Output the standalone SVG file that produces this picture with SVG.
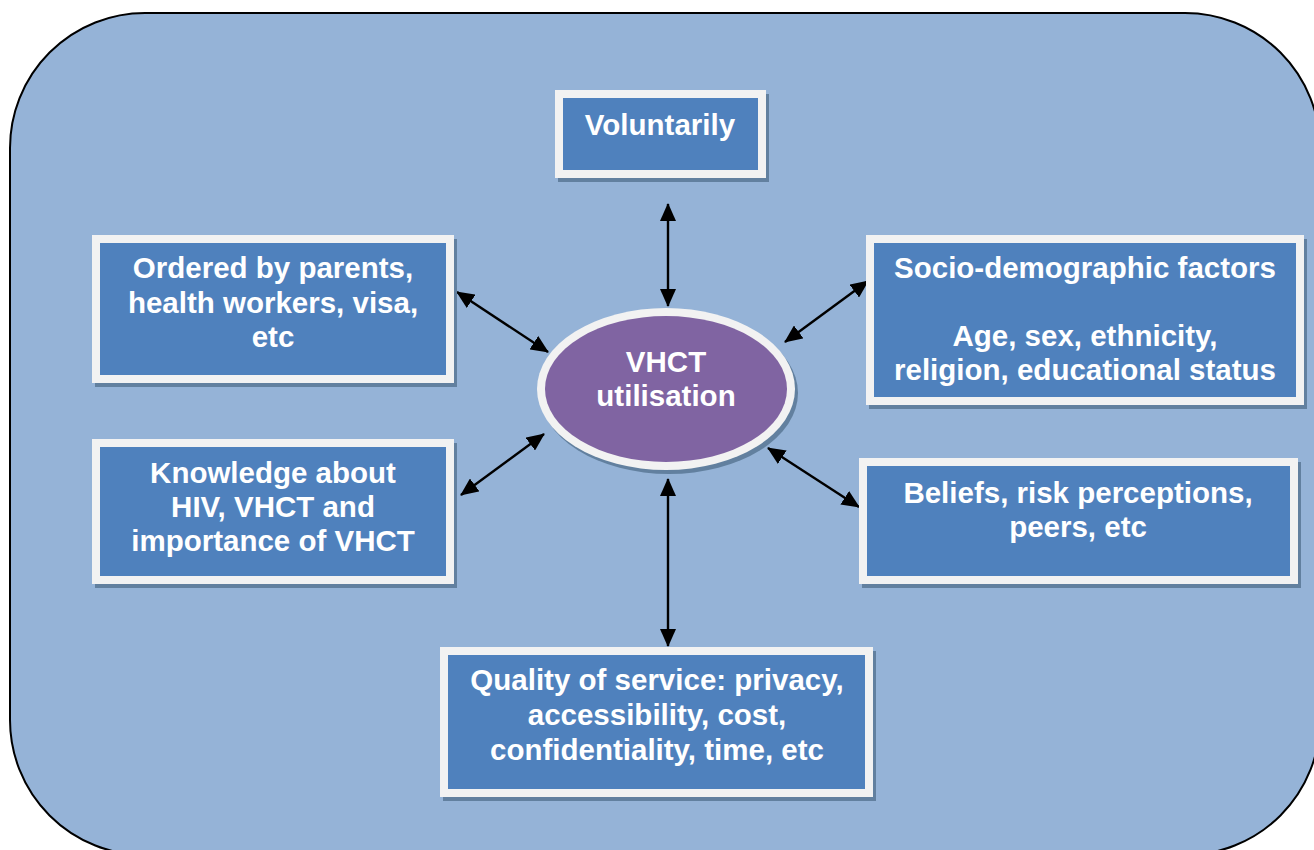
<svg xmlns="http://www.w3.org/2000/svg" width="1314" height="850" viewBox="0 0 1314 850">
<defs>
<style>
.bg{fill:#95b3d7;stroke:#000;stroke-width:2}
.sh{fill:#62809f}
.frame{fill:#f2f2f2}
.box{fill:#4f81bd}
.ell{fill:#8064a2}
.t{font-family:"Liberation Sans",Arial,sans-serif;font-weight:bold;font-size:29.5px;fill:#fff;text-anchor:middle}
.c{stroke:#000;stroke-width:2.4;fill:none;marker-start:url(#ah);marker-end:url(#ah)}
</style>
<marker id="ah" viewBox="0 0 18 16" refX="17" refY="8" markerWidth="18" markerHeight="16" markerUnits="userSpaceOnUse" orient="auto-start-reverse">
<path d="M0,0 L18,8 L0,16 z" fill="#000"/>
</marker>
</defs>
<rect class="bg" x="10" y="13" width="1310" height="842" rx="135" ry="135"/>

<g id="connectors">
<line class="c" x1="668" y1="204" x2="668" y2="306"/>
<line class="c" x1="668" y1="479" x2="668" y2="646"/>
<line class="c" x1="457" y1="292" x2="548" y2="352"/>
<line class="c" x1="868" y1="281" x2="785" y2="342"/>
<line class="c" x1="461" y1="495" x2="544" y2="434"/>
<line class="c" x1="768" y1="448" x2="859" y2="507"/>
</g>

<g id="voluntarily">
<rect class="sh" x="558" y="94" width="211" height="88"/>
<rect class="frame" x="555" y="90" width="211" height="88"/>
<rect class="box" x="563" y="98" width="195" height="72"/>
<text class="t" x="660" y="135">Voluntarily</text>
</g>

<g id="ordered">
<rect class="sh" x="95" y="239" width="362" height="148"/>
<rect class="frame" x="92" y="235" width="362" height="148"/>
<rect class="box" x="100" y="243" width="346" height="132"/>
<text class="t" x="273" y="278">Ordered by parents,</text>
<text class="t" x="273" y="313">health workers, visa,</text>
<text class="t" x="273" y="347">etc</text>
</g>

<g id="socio">
<rect class="sh" x="869" y="239" width="438" height="170"/>
<rect class="frame" x="866" y="235" width="438" height="170"/>
<rect class="box" x="874" y="243" width="422" height="154"/>
<text class="t" x="1085" y="278">Socio-demographic factors</text>
<text class="t" x="1085" y="346">Age, sex, ethnicity,</text>
<text class="t" x="1085" y="380">religion, educational status</text>
</g>

<g id="knowledge">
<rect class="sh" x="95" y="443" width="362" height="145"/>
<rect class="frame" x="92" y="439" width="362" height="145"/>
<rect class="box" x="100" y="447" width="346" height="129"/>
<text class="t" x="273" y="483">Knowledge about</text>
<text class="t" x="273" y="517">HIV, VHCT and</text>
<text class="t" x="273" y="551">importance of VHCT</text>
</g>

<g id="beliefs">
<rect class="sh" x="862" y="462" width="439" height="126"/>
<rect class="frame" x="859" y="458" width="439" height="126"/>
<rect class="box" x="867" y="466" width="423" height="110"/>
<text class="t" x="1078" y="503">Beliefs, risk perceptions,</text>
<text class="t" x="1078" y="537">peers, etc</text>
</g>

<g id="quality">
<rect class="sh" x="443" y="651" width="433" height="150"/>
<rect class="frame" x="440" y="647" width="433" height="150"/>
<rect class="box" x="448" y="655" width="417" height="134"/>
<text class="t" x="657" y="690">Quality of service: privacy,</text>
<text class="t" x="657" y="725">accessibility, cost,</text>
<text class="t" x="657" y="760">confidentiality, time, etc</text>
</g>

<g id="vhct">
<ellipse class="sh" cx="669" cy="393" rx="129" ry="81"/>
<ellipse class="frame" cx="666" cy="389" rx="129" ry="81"/>
<ellipse class="ell" cx="666" cy="389" rx="121" ry="73"/>
<text class="t" x="666" y="372">VHCT</text>
<text class="t" x="666" y="406">utilisation</text>
</g>
</svg>
